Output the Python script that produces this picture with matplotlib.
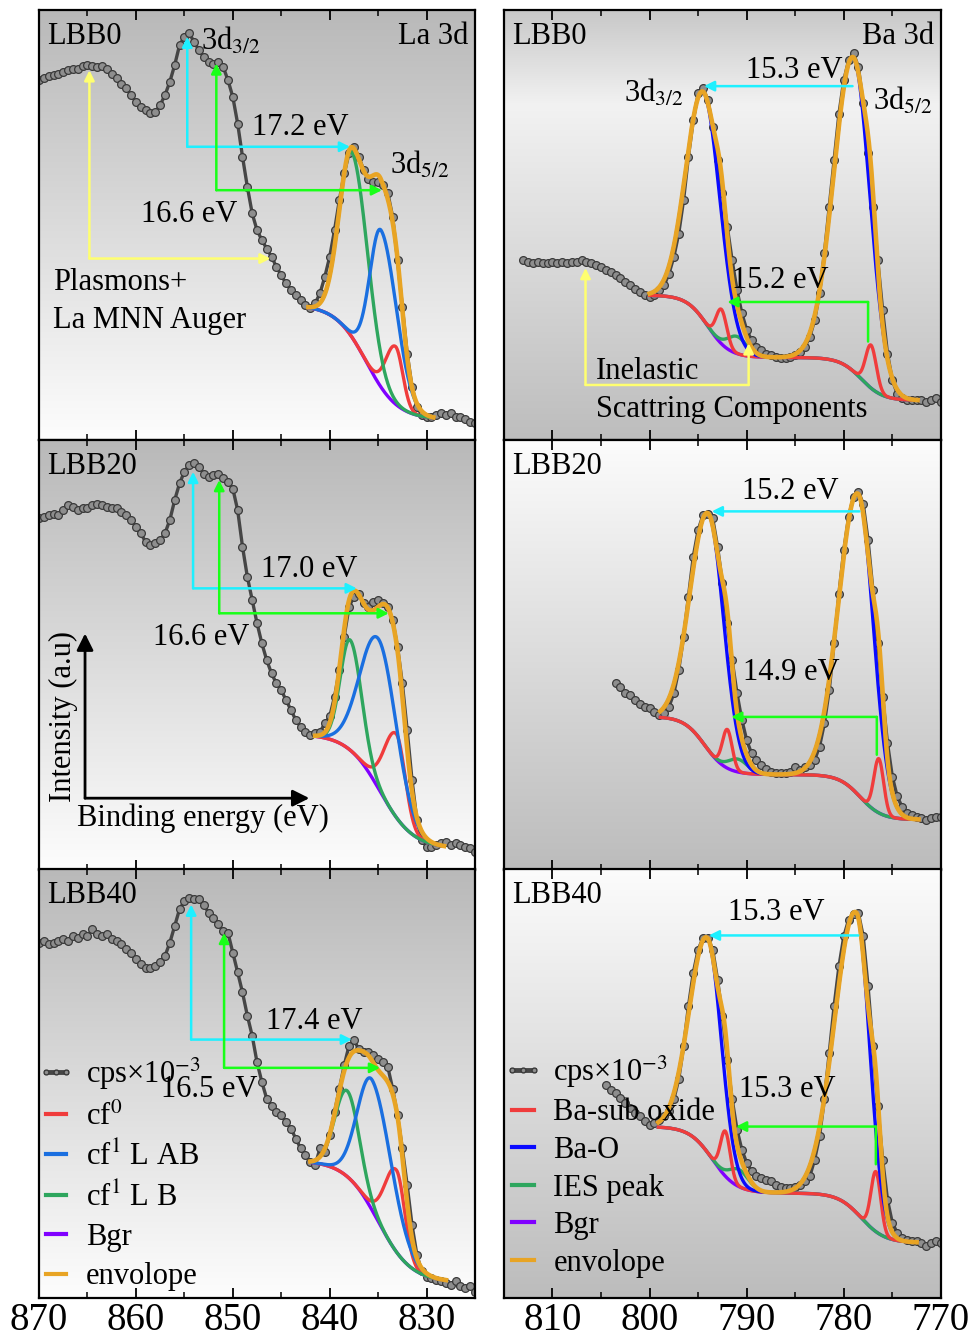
import numpy as np
import matplotlib
matplotlib.use("Agg")
import matplotlib.pyplot as plt
from matplotlib.colors import LinearSegmentedColormap
from matplotlib.lines import Line2D

plt.rcParams['font.family'] = ['Liberation Serif', 'DejaVu Serif']
plt.rcParams['mathtext.fontset'] = 'stix'

# ---------------- La 3d spectra ----------------
samples = ["LBB0", "LBB20", "LBB40"]
la_energy = np.arange(870.0, 824.75, -0.5)

la_cps_0 = [83.7, 84.1, 84.6, 84.9, 85.2, 85.6, 86.0, 86.2, 86.4, 87.0,
            87.2, 87.0, 86.8, 87.0, 86.4, 85.2, 84.1, 82.9, 81.8, 80.2,
            78.7, 77.5, 76.7, 76.1, 76.3, 77.9, 80.2, 83.3, 87.2, 91.8,
            93.8, 94.6, 92.6, 90.7, 89.1, 88.0, 87.4, 88.0, 86.8, 83.7,
            79.8, 73.6, 65.9, 58.9, 52.7, 48.8, 46.5, 44.5, 42.6, 40.3,
            38.3, 36.4, 34.9, 33.7, 32.5, 31.4, 30.6, 31.8, 34.1, 38.0,
            42.6, 48.8, 55.8, 62.0, 66.7, 68.2, 65.9, 62.8, 60.8, 60.1,
            60.1, 59.3, 57.4, 51.9, 41.8, 31.0, 20.1, 12.4, 7.7, 5.8,
            5.4, 5.4, 5.8, 6.2, 5.8, 6.2, 5.4, 5.4, 5.0, 4.2,
            3.9]
la_cps_20 = [81.8, 82.1, 82.5, 82.9, 82.5, 83.7, 84.9, 84.5, 83.7, 84.1,
             84.1, 84.9, 85.2, 84.9, 84.5, 84.1, 84.1, 83.3, 82.5, 81.4,
             79.8, 78.3, 76.3, 75.6, 76.0, 76.7, 78.3, 81.4, 86.0, 89.9,
             92.6, 94.2, 94.6, 93.8, 92.2, 91.5, 91.8, 92.2, 91.1, 90.3,
             88.7, 83.7, 75.2, 68.2, 62.8, 57.4, 52.7, 48.8, 45.7, 43.4,
             41.8, 39.5, 37.2, 34.9, 33.3, 32.1, 31.4, 31.8, 32.1, 34.1,
             35.7, 40.3, 46.5, 54.3, 61.2, 63.6, 64.3, 62.0, 61.2, 62.4,
             62.8, 62.0, 61.2, 58.1, 51.9, 43.4, 32.5, 20.9, 11.6, 7.0,
             5.4, 5.4, 5.8, 6.2, 6.6, 5.8, 6.2, 5.8, 5.4, 5.0,
             4.2]
la_cps_40 = [82.9, 83.3, 82.5, 82.9, 83.3, 83.7, 83.3, 84.5, 84.1, 84.9,
             84.5, 86.0, 84.9, 84.5, 84.9, 83.7, 83.3, 82.5, 81.4, 80.6,
             79.1, 77.9, 77.1, 77.1, 77.5, 78.3, 79.8, 82.9, 86.8, 90.7,
             92.6, 93.4, 93.0, 93.0, 91.8, 89.9, 88.7, 87.2, 85.6, 85.2,
             80.6, 76.0, 71.3, 65.9, 61.2, 55.0, 50.4, 46.5, 44.9, 43.4,
             42.6, 41.1, 39.5, 37.2, 34.9, 33.3, 31.8, 31.0, 34.9, 34.1,
             38.0, 43.4, 48.8, 54.3, 58.9, 60.1, 58.1, 57.4, 57.4, 56.6,
             55.8, 55.0, 53.9, 48.8, 42.6, 34.9, 26.3, 17.0, 10.1, 6.2,
             5.0, 4.6, 4.2, 3.9, 3.5, 3.1, 3.9, 2.7, 2.3, 2.7,
             1.5]
la_cps = [la_cps_0, la_cps_20, la_cps_40]

# fit window and Shirley-type step background
la_fit_start = [842.2, 841.5, 842.0]
la_fit_end = [829.3, 828.2, 828.0]
la_bgr_top = [31.4, 31.6, 32.1]
la_bgr_base = [4.8, 5.0, 3.7]
la_bgr_mid = [836.2, 834.8, 835.0]
la_bgr_width = [1.6, 1.7, 1.7]
# cf0
la_cf0_pos = [833.2, 833.1, 833.1]
la_cf0_amp = [13.4, 19.4, 19.1]
la_cf0_whi = [1.0, 1.25, 1.2]
la_cf0_wlo = [0.75, 0.9, 0.85]
# cf1 L AB
la_ab_pos = [834.7, 834.9, 835.6]
la_ab_amp = [36.5, 34.8, 30.4]
la_ab_whi = [1.15, 1.9, 1.5]
la_ab_wlo = [1.6, 1.8, 2.0]
# cf1 L B
la_b_pos = [837.7, 837.9, 838.2]
la_b_amp = [43.0, 25.6, 20.0]
la_b_whi = [1.3, 1.0, 1.25]
la_b_wlo = [1.6, 1.18, 1.25]

# ---------------- Ba 3d spectra ----------------
ba_start = [813.0, 803.5, 804.5]
ba_cps_0 = [41.8, 41.5, 41.1, 41.5, 41.1, 41.1, 41.5, 41.1, 41.5, 41.1,
            41.5, 41.5, 41.8, 41.5, 41.1, 40.7, 40.3, 39.5, 39.1, 38.3,
            37.6, 36.8, 36.0, 35.2, 34.5, 33.7, 33.3, 33.7, 34.9, 36.0,
            38.7, 42.6, 48.0, 55.8, 65.9, 74.4, 80.6, 81.8, 79.1, 72.9,
            65.1, 57.4, 49.6, 41.8, 34.9, 29.5, 25.6, 23.2, 21.7, 20.9,
            20.1, 19.7, 19.4, 19.0, 19.0, 19.4, 19.7, 20.5, 21.7, 24.0,
            27.9, 34.1, 43.4, 54.3, 65.1, 75.9, 83.7, 88.3, 89.9, 86.8,
            78.3, 66.7, 54.3, 41.8, 30.2, 20.1, 13.9, 10.8, 9.7, 9.3,
            9.3, 9.3, 9.3, 8.9, 9.3, 9.7, 8.9]
ba_cps_20 = [43.4, 42.6, 41.1, 40.7, 39.5, 38.7, 38.0, 37.6, 36.8, 36.0,
             36.4, 38.0, 41.1, 46.5, 54.3, 63.6, 72.9, 79.1, 82.5, 82.9,
             81.8, 75.2, 66.7, 57.4, 48.8, 41.1, 34.9, 30.2, 27.1, 25.6,
             24.4, 23.6, 22.8, 22.5, 22.5, 22.5, 22.8, 24.0, 23.2, 24.0,
             24.4, 25.6, 28.7, 34.1, 41.8, 52.7, 64.3, 74.4, 82.2, 86.8,
             88.0, 85.2, 76.7, 65.1, 52.7, 40.3, 29.5, 21.7, 17.1, 14.7,
             13.2, 12.8, 12.4, 12.0, 11.6, 12.0, 12.4, 12.4]
ba_cps_40 = [49.8, 48.6, 47.9, 46.7, 45.6, 44.4, 43.2, 42.5, 41.3, 40.4,
             40.8, 41.6, 42.5, 43.6, 46.4, 51.0, 58.7, 68.1, 75.9, 81.3,
             84.0, 84.0, 81.3, 74.3, 65.7, 55.6, 46.4, 39.3, 34.6, 31.5,
             29.6, 28.4, 28.0, 27.6, 27.2, 26.4, 26.0, 25.7, 25.7, 26.0,
             26.4, 27.2, 28.4, 32.3, 37.7, 46.4, 57.2, 68.1, 77.4, 84.4,
             88.3, 89.5, 89.9, 84.4, 72.7, 58.7, 44.7, 32.3, 22.9, 17.5,
             15.2, 14.0, 13.6, 13.2, 13.2, 12.9, 12.1, 12.9, 13.2, 12.9]
ba_cps = [ba_cps_0, ba_cps_20, ba_cps_40]

ba_fit_start = [800.0, 798.9, 799.1]
ba_fit_end = [772.4, 772.3, 772.5]
ba_bgr_base = [9.2, 11.7, 12.9]
ba_bgr_step52 = [10.0, 10.5, 11.6]
ba_bgr_mid52 = [778.2, 778.3, 778.2]
ba_bgr_step32 = [14.5, 13.5, 15.5]
ba_bgr_mid32 = [794.0, 794.3, 793.5]
ba_bgr_width = [1.1, 1.1, 1.2]
# Ba-O doublet
bao_pos52 = [779.0, 778.5, 778.7]
bao_amp52 = [73.0, 70.0, 70.0]
bao_whi52 = [2.0, 2.0, 2.2]
bao_wlo52 = [1.7, 1.55, 1.35]
bao_pos32 = [794.4, 793.9, 794.0]
bao_amp32 = [53.0, 55.0, 50.0]
bao_whi32 = [1.8, 1.85, 1.85]
bao_wlo32 = [1.7, 1.55, 1.4]
# Ba sub-oxide doublet
sub_pos52 = [777.2, 776.4, 776.7]
sub_amp52 = [10.0, 12.6, 14.0]
sub_pos32 = [792.6, 792.0, 792.2]
sub_amp32 = [8.0, 9.0, 10.5]
sub_width = [0.55, 0.5, 0.5]
# inelastic scattering peak
ies_pos = [791.0, 790.9, 790.8]
ies_amp = [4.0, 3.0, 4.0]
ies_width = [1.0, 1.0, 1.0]

# colours
C_DATA, C_DATA_FACE = '#464646', '#8e8e8e'
C_RED, C_BLUE_L, C_GREEN = '#f03c3c', '#1a6fe0', '#2ea65e'
C_PURPLE, C_ORANGE, C_BLUE_B = '#8000ff', '#e8a424', '#0a0aff'
C_CYAN, C_LIME, C_YEL = '#1ef0ff', '#19ff19', '#ffff70'
FS = 22


def sig(x):
    return 1.0 / (1.0 + np.exp(-x))


def peak(e, c, h, s_hi, s_lo):
    s = np.where(e > c, s_hi, s_lo)
    return h * np.exp(-(e - c) ** 2 / (2 * s ** 2))


def shade(ax, stops):
    cmap = LinearSegmentedColormap.from_list('bg', stops)
    grad = np.linspace(0, 1, 256).reshape(-1, 1)
    ax.imshow(grad, cmap=cmap, aspect='auto', extent=(0, 1, 0, 1),
              transform=ax.transAxes, origin='lower', zorder=0)


def arrow(ax, x0, y0, x1, y1, color, head=True, lw=1.8, ms=15, coords='data'):
    ax.annotate('', xy=(x1, y1), xytext=(x0, y0), xycoords=coords, textcoords=coords,
                arrowprops=dict(arrowstyle='-|>' if head else '-', color=color, lw=lw,
                                shrinkA=0, shrinkB=0, mutation_scale=ms), zorder=6)


def frame(ax, xlim, majors, bottom_labels):
    ax.set_xlim(*xlim)
    ax.set_ylim(0, 100)
    ax.set_xticks(majors)
    ax.set_xticks(np.arange(xlim[1], xlim[0] + 0.1, 5), minor=True)
    ax.set_yticks([])
    ax.tick_params(which='both', direction='in', top=True, bottom=True,
                   labelbottom=bottom_labels, labelsize=28, pad=3)
    ax.tick_params(which='major', length=7, width=1.3)
    ax.tick_params(which='minor', length=4, width=1.1)
    for s in ax.spines.values():
        s.set_linewidth(1.6)
        s.set_zorder(8)


def plot_cps(ax, e, y):
    ax.plot(e, y, color=C_DATA, lw=2.4, marker='o', ms=5.6, mfc=C_DATA_FACE,
            mec='#3a3a3a', mew=0.9, zorder=2)


def data_handle():
    return Line2D([], [], color=C_DATA, lw=3.5, marker='o', ms=3.5,
                  mfc=C_DATA_FACE, mec='#3a3a3a')


fig = plt.figure(figsize=(9.71, 13.37), dpi=100)
rows = [(0.6709, 0.3216), (0.3493, 0.3216), (0.0292, 0.3205)]
left_x, left_w = 0.0402, 0.449
right_x, right_w = 0.519, 0.450

for i in range(3):
    b, h = rows[i]

    # ---------- La 3d column ----------
    ax = fig.add_axes([left_x, b, left_w, h])
    shade(ax, [(0, '#fdfdfd'), (1, '#b9b9b9')])
    plot_cps(ax, la_energy, la_cps[i])
    ef = np.linspace(la_fit_start[i], la_fit_end[i], 500)
    bgr = la_bgr_base[i] + (la_bgr_top[i] - la_bgr_base[i]) * sig((ef - la_bgr_mid[i]) / la_bgr_width[i])
    cf0 = peak(ef, la_cf0_pos[i], la_cf0_amp[i], la_cf0_whi[i], la_cf0_wlo[i])
    lab = peak(ef, la_ab_pos[i], la_ab_amp[i], la_ab_whi[i], la_ab_wlo[i])
    lb = peak(ef, la_b_pos[i], la_b_amp[i], la_b_whi[i], la_b_wlo[i])
    ax.plot(ef, bgr, color=C_PURPLE, lw=2.4, zorder=3)
    ax.plot(ef, bgr + cf0, color=C_RED, lw=2.4, zorder=3.1)
    ax.plot(ef, bgr + lb, color=C_GREEN, lw=2.4, zorder=3.2)
    ax.plot(ef, bgr + lab, color=C_BLUE_L, lw=2.4, zorder=3.3)
    ax.plot(ef, bgr + cf0 + lab + lb, color=C_ORANGE, lw=3.3, zorder=4)
    frame(ax, (870, 825), [870, 860, 850, 840, 830], i == 2)
    ax.text(0.018, 0.972, samples[i], transform=ax.transAxes, fontsize=FS,
            ha='left', va='top', zorder=7)

    if i == 0:
        ax.text(0.985, 0.972, 'La 3d', transform=ax.transAxes, fontsize=FS,
                ha='right', va='top', zorder=7)
        arrow(ax, 854.7, 68.2, 854.7, 93.8, C_CYAN)
        arrow(ax, 854.7, 68.2, 837.9, 68.2, C_CYAN)
        arrow(ax, 851.7, 58.1, 851.7, 87.6, C_LIME)
        arrow(ax, 851.7, 58.1, 834.6, 58.1, C_LIME)
        arrow(ax, 864.8, 42.2, 864.8, 86.0, C_YEL)
        arrow(ax, 864.8, 42.2, 846.1, 42.2, C_YEL)
        ax.text(853.3, 90.7, '3d$_{3/2}$', fontsize=FS, va='baseline', zorder=7)
        ax.text(833.8, 62.0, '3d$_{5/2}$', fontsize=FS, va='baseline', zorder=7)
        ax.text(843.0, 70.9, '17.2 eV', fontsize=FS, ha='center', va='baseline', zorder=7)
        ax.text(854.5, 50.8, '16.6 eV', fontsize=FS, ha='center', va='baseline', zorder=7)
        ax.text(868.6, 34.9, 'Plasmons+', fontsize=FS, va='baseline', zorder=7)
        ax.text(868.6, 26.0, 'La MNN Auger', fontsize=FS, va='baseline', zorder=7)
    elif i == 1:
        arrow(ax, 854.1, 65.5, 854.1, 92.6, C_CYAN)
        arrow(ax, 854.1, 65.5, 837.2, 65.5, C_CYAN)
        arrow(ax, 851.4, 59.7, 851.4, 90.7, C_LIME)
        arrow(ax, 851.4, 59.7, 833.9, 59.7, C_LIME)
        ax.text(842.1, 68.1, '17.0 eV', fontsize=FS, ha='center', va='baseline', zorder=7)
        ax.text(853.3, 52.3, '16.6 eV', fontsize=FS, ha='center', va='baseline', zorder=7)
        # schematic axes
        arrow(ax, 0.1055, 0.167, 0.1055, 0.55, 'black', lw=2, ms=25, coords='axes fraction')
        arrow(ax, 0.1055, 0.167, 0.62, 0.167, 'black', lw=2, ms=25, coords='axes fraction')
        ax.text(0.055, 0.357, 'Intensity (a.u)', transform=ax.transAxes, fontsize=FS,
                rotation=90, ha='center', va='center', zorder=7)
        ax.text(0.087, 0.12, 'Binding energy (eV)', transform=ax.transAxes, fontsize=FS,
                ha='left', va='center', zorder=7)
    else:
        arrow(ax, 854.3, 60.3, 854.3, 91.8, C_CYAN)
        arrow(ax, 854.3, 60.3, 837.7, 60.3, C_CYAN)
        arrow(ax, 850.9, 53.7, 850.9, 85.2, C_LIME)
        arrow(ax, 850.9, 53.7, 834.8, 53.7, C_LIME)
        ax.text(841.6, 62.8, '17.4 eV', fontsize=FS, ha='center', va='baseline', zorder=7)
        ax.text(852.4, 46.9, '16.5 eV', fontsize=FS, ha='center', va='baseline', zorder=7)
        handles = [data_handle(),
                   Line2D([], [], color=C_RED, lw=3),
                   Line2D([], [], color=C_BLUE_L, lw=3),
                   Line2D([], [], color=C_GREEN, lw=3),
                   Line2D([], [], color=C_PURPLE, lw=3),
                   Line2D([], [], color=C_ORANGE, lw=3)]
        labels = ['cps\u00d710$^{-3}$', 'cf$^{0}$', 'cf$^{1}$ L AB', 'cf$^{1}$ L B', 'Bgr', 'envolope']
        leg = ax.legend(handles, labels, loc='upper left', bbox_to_anchor=(-0.004, 0.565),
                        frameon=False, fontsize=FS, handlelength=1.25, handletextpad=0.35,
                        labelspacing=0.34, borderpad=0, borderaxespad=0, numpoints=3)
        leg.set_zorder(7)

    # ---------- Ba 3d column ----------
    ax = fig.add_axes([right_x, b, right_w, h])
    if i == 0:
        shade(ax, [(0, '#bdbdbd'), (0.78, '#f2f2f2'), (1, '#c8c8c8')])
    else:
        shade(ax, [(0, '#bcbcbc'), (1, '#fcfcfc')])
    eb = np.arange(ba_start[i], 769.75, -0.5)
    plot_cps(ax, eb, ba_cps[i])
    ef = np.linspace(ba_fit_start[i], ba_fit_end[i], 600)
    w = ba_bgr_width[i]
    bgr = (ba_bgr_base[i] + ba_bgr_step52[i] * sig((ef - ba_bgr_mid52[i]) / w)
           + ba_bgr_step32[i] * sig((ef - ba_bgr_mid32[i]) / w))
    bao = (peak(ef, bao_pos52[i], bao_amp52[i], bao_whi52[i], bao_wlo52[i])
           + peak(ef, bao_pos32[i], bao_amp32[i], bao_whi32[i], bao_wlo32[i]))
    sub = (peak(ef, sub_pos52[i], sub_amp52[i], sub_width[i], sub_width[i])
           + peak(ef, sub_pos32[i], sub_amp32[i], sub_width[i], sub_width[i]))
    ies = peak(ef, ies_pos[i], ies_amp[i], ies_width[i], ies_width[i])
    ax.plot(ef, bgr, color=C_PURPLE, lw=2.4, zorder=3)
    ax.plot(ef, bgr + ies, color=C_GREEN, lw=2.4, zorder=3.1)
    ax.plot(ef, bgr + sub, color=C_RED, lw=2.4, zorder=3.2)
    ax.plot(ef, bgr + bao, color=C_BLUE_B, lw=2.4, zorder=3.3)
    ax.plot(ef, bgr + bao + sub + ies, color=C_ORANGE, lw=3.3, zorder=4)
    frame(ax, (815, 770), [810, 800, 790, 780, 770], i == 2)
    ax.text(0.018, 0.972, samples[i], transform=ax.transAxes, fontsize=FS,
            ha='left', va='top', zorder=7)

    if i == 0:
        ax.text(0.985, 0.972, 'Ba 3d', transform=ax.transAxes, fontsize=FS,
                ha='right', va='top', zorder=7)
        arrow(ax, 779.1, 82.3, 794.4, 82.3, C_CYAN)
        arrow(ax, 777.5, 22.9, 777.5, 32.1, C_LIME, head=False)
        arrow(ax, 777.5, 32.1, 792.0, 32.1, C_LIME)
        arrow(ax, 806.6, 12.8, 806.6, 40.0, C_YEL)
        arrow(ax, 806.6, 12.8, 789.8, 12.8, C_YEL, head=False)
        arrow(ax, 789.8, 12.8, 789.8, 22.5, C_YEL)
        ax.text(785.1, 84.3, '15.3 eV', fontsize=FS, ha='center', va='baseline', zorder=7)
        ax.text(802.6, 78.7, '3d$_{3/2}$', fontsize=FS, va='baseline', zorder=7)
        ax.text(777.0, 76.9, '3d$_{5/2}$', fontsize=FS, va='baseline', zorder=7)
        ax.text(786.5, 35.3, '15.2 eV', fontsize=FS, ha='center', va='baseline', zorder=7)
        ax.text(805.5, 14.3, 'Inelastic', fontsize=FS, va='baseline', zorder=7)
        ax.text(805.5, 5.4, 'Scattring Components', fontsize=FS, va='baseline', zorder=7)
    elif i == 1:
        arrow(ax, 778.4, 83.4, 793.6, 83.4, C_CYAN)
        arrow(ax, 776.6, 26.8, 776.6, 35.6, C_LIME, head=False)
        arrow(ax, 776.6, 35.6, 791.6, 35.6, C_LIME)
        ax.text(785.5, 86.2, '15.2 eV', fontsize=FS, ha='center', va='baseline', zorder=7)
        ax.text(785.4, 44.3, '14.9 eV', fontsize=FS, ha='center', va='baseline', zorder=7)
    else:
        arrow(ax, 778.5, 84.6, 793.9, 84.6, C_CYAN)
        arrow(ax, 776.7, 31.2, 776.7, 40.0, C_LIME, head=False)
        arrow(ax, 776.7, 40.0, 791.1, 40.0, C_LIME)
        ax.text(787.0, 88.3, '15.3 eV', fontsize=FS, ha='center', va='baseline', zorder=7)
        ax.text(785.8, 46.9, '15.3 eV', fontsize=FS, ha='center', va='baseline', zorder=7)
        handles = [data_handle(),
                   Line2D([], [], color=C_RED, lw=3),
                   Line2D([], [], color=C_BLUE_B, lw=3),
                   Line2D([], [], color=C_GREEN, lw=3),
                   Line2D([], [], color=C_PURPLE, lw=3),
                   Line2D([], [], color=C_ORANGE, lw=3)]
        labels = ['cps\u00d710$^{-3}$', 'Ba-sub oxide', 'Ba-O', 'IES peak', 'Bgr', 'envolope']
        leg = ax.legend(handles, labels, loc='upper left', bbox_to_anchor=(-0.002, 0.57),
                        frameon=False, fontsize=FS, handlelength=1.3, handletextpad=0.35,
                        labelspacing=0.28, borderpad=0, borderaxespad=0, numpoints=3)
        leg.set_zorder(7)

fig.savefig('out.png', dpi=100)
